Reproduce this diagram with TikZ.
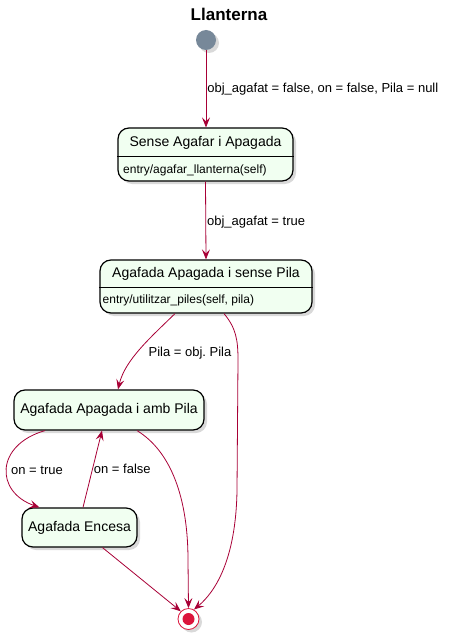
\documentclass[tikz,border=0pt]{standalone}
\usepackage{fontspec}
\setmainfont{Liberation Sans}
\usetikzlibrary{arrows.meta,shadows}
\definecolor{arrowRed}{HTML}{A80036}
\definecolor{stateFill}{HTML}{F1FFF1}
\definecolor{initGray}{HTML}{778899}
\definecolor{finalRed}{HTML}{DC143C}
\frenchspacing
\begin{document}
\begin{tikzpicture}[x=1pt, y=1pt,
    stateStyle/.style={draw, line width=1.2pt, rounded corners=11pt, fill=stateFill, inner sep=0pt,
        drop shadow={shadow xshift=3pt, shadow yshift=-3pt, opacity=0.3}},
    initStyle/.style={circle, fill=initGray, minimum size=20pt, inner sep=0pt,
        drop shadow={shadow xshift=3pt, shadow yshift=-3pt, opacity=0.3}},
    finalStyle/.style={circle, draw=finalRed, line width=0.8pt, fill=white, minimum size=21pt, inner sep=0pt,
        drop shadow={shadow xshift=3pt, shadow yshift=-3pt, opacity=0.3}},
    edgeStyle/.style={draw=arrowRed, line width=0.8pt, -{Stealth[length=10pt, width=8pt, inset=4pt]}},
    labelStyle/.style={font=\fontsize{13}{15}\selectfont, inner sep=1pt, text=black},
    nameStyle/.style={font=\fontsize{14}{16}\selectfont, inner sep=0pt},
    entryStyle/.style={font=\fontsize{12}{14}\selectfont, inner sep=0pt, anchor=west}]
    \useasboundingbox (0,0) rectangle (450,-639);

    \node[font=\fontsize{17}{20}\selectfont\bfseries] (title) at (229,-14) {Llanterna};
    \node[initStyle] (init) at (206,-40) {};

    % states
    \node[stateStyle, minimum width=175pt, minimum height=53pt] (s1) at (205.5,-154.5) {};
    \draw[line width=0.8pt] ([yshift=-29pt]s1.north west) -- ([yshift=-29pt]s1.north east);
    \node[nameStyle] (s1name) at (205.5,-143) {Sense Agafar i Apagada};
    \node[entryStyle] (s1entry) at (123,-170) {entry/agafar\_llanterna(self)};

    \node[stateStyle, minimum width=212pt, minimum height=53pt] (s2) at (206,-286.5) {};
    \draw[line width=0.8pt] ([yshift=-28pt]s2.north west) -- ([yshift=-28pt]s2.north east);
    \node[nameStyle] (s2name) at (206,-274) {Agafada Apagada i sense Pila};
    \node[entryStyle] (s2entry) at (102.5,-300) {entry/utilitzar\_piles(self, pila)};

    \node[stateStyle, minimum width=190pt, minimum height=40pt, nameStyle] (s3) at (109,-410) {Agafada Apagada i amb Pila};
    \node[stateStyle, minimum width=115pt, minimum height=39pt, nameStyle] (s4) at (79.5,-527.5) {Agafada Encesa};

    \node[finalStyle] (fin) at (188.5,-619) {};
    \fill[finalRed] (fin.center) circle (6pt);

    % transitions
    \draw[edgeStyle] (init) -- (init |- s1.north)
        node[labelStyle, right, pos=.5] {obj\_agafat = false, on = false, Pila = null};
    \draw[edgeStyle] (s1.south) -- (s2.north)
        node[labelStyle, right, pos=.5, yshift=-2pt] {obj\_agafat = true};
    \draw[edgeStyle] ([xshift=-31pt]s2.south) .. controls (150,-338) and (125,-360) .. ([xshift=9pt]s3.north);
    \node[labelStyle] (l1) at (190,-353) {Pila = obj. Pila};
    \draw[edgeStyle] ([xshift=18pt]s2.south) .. controls (236,-328) and (238,-340) .. (238,-360)
        -- (237,-490) .. controls (236,-560) and (215,-592) .. (fin.60);
    \draw[edgeStyle] ([xshift=-64pt]s3.south) .. controls (-5,-445) and (-5,-492) .. ([xshift=-40pt]s4.north);
    \node[labelStyle] (l2) at (37,-470) {on = true};
    \draw[edgeStyle] ([xshift=3.5pt]s4.north) -- ([xshift=-7pt]s3.south)
        node[labelStyle, right, pos=.5] {on = false};
    \draw[edgeStyle] ([xshift=28pt]s3.south) .. controls (172,-452) and (188,-500) .. (188,-560)
        -- (fin.north);
    \draw[edgeStyle] ([xshift=23pt]s4.south) -- (fin.135);
\end{tikzpicture}
\end{document}
